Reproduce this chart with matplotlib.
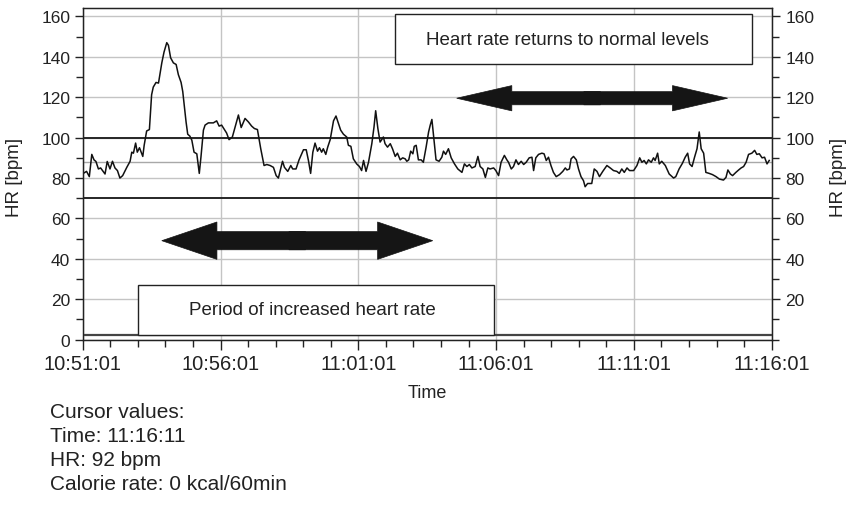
import matplotlib.pyplot as plt
from matplotlib.patches import FancyArrow, Rectangle
from matplotlib.ticker import MultipleLocator

plt.rcParams['font.family'] = ['Liberation Sans', 'DejaVu Sans']

# heart rate trace, minutes after 10:51:01
hr_min = [0.02, 0.14, 0.24, 0.33, 0.41, 0.48, 0.57, 0.65, 0.81, 0.89, 0.99, 1.08, 1.17, 1.26,
          1.35, 1.45, 1.60, 1.72, 1.78, 1.84, 1.92, 1.98, 2.06, 2.12, 2.18, 2.23, 2.32, 2.42,
          2.50, 2.56, 2.66, 2.75, 2.87, 2.95, 3.05, 3.11, 3.19, 3.29, 3.39, 3.47, 3.57, 3.63,
          3.75, 3.81, 3.89, 3.96, 4.04, 4.14, 4.23, 4.29, 4.38, 4.44, 4.56, 4.74, 4.86, 4.95,
          5.04, 5.14, 5.22, 5.31, 5.43, 5.53, 5.65, 5.75, 5.89, 6.01, 6.13, 6.23, 6.34, 6.46,
          6.58, 6.68, 6.80, 6.92, 7.02, 7.10, 7.25, 7.32, 7.44, 7.55, 7.62, 7.74, 7.85, 8.01,
          8.11, 8.19, 8.27, 8.35, 8.43, 8.52, 8.59, 8.67, 8.73, 8.82, 8.89, 8.98, 9.10, 9.19,
          9.28, 9.36, 9.46, 9.58, 9.64, 9.73, 9.82, 9.94, 10.04, 10.12, 10.19, 10.28, 10.37,
          10.49, 10.57, 10.63, 10.71, 10.79, 10.85, 10.91, 10.97, 11.06, 11.16, 11.24, 11.34,
          11.42, 11.52, 11.61, 11.70, 11.76, 11.83, 11.90, 11.98, 12.03, 12.10, 12.18, 12.28,
          12.36, 12.46, 12.55, 12.61, 12.67, 12.76, 12.82, 12.93, 13.03, 13.09, 13.17, 13.27,
          13.37, 13.49, 13.61, 13.76, 13.85, 13.94, 14.03, 14.12, 14.24, 14.34, 14.42, 14.52,
          14.61, 14.70, 14.78, 14.91, 14.99, 15.09, 15.18, 15.30, 15.39, 15.45, 15.55, 15.63,
          15.72, 15.81, 15.91, 16.00, 16.09, 16.20, 16.30, 16.36, 16.44, 16.54, 16.66, 16.74,
          16.82, 16.90, 16.99, 17.08, 17.18, 17.30, 17.42, 17.51, 17.57, 17.66, 17.72, 17.81,
          17.91, 17.99, 18.08, 18.17, 18.23, 18.32, 18.47, 18.56, 18.66, 18.75, 18.87, 19.02,
          19.14, 19.26, 19.38, 19.47, 19.56, 19.65, 19.75, 19.84, 19.99, 20.11, 20.21, 20.29,
          20.37, 20.45, 20.53, 20.63, 20.71, 20.77, 20.86, 20.92, 21.01, 21.14, 21.28, 21.44,
          21.52, 21.64, 21.76, 21.86, 21.95, 22.02, 22.11, 22.20, 22.29, 22.37, 22.44, 22.53,
          22.61, 22.73, 22.85, 22.98, 23.10, 23.25, 23.34, 23.41, 23.50, 23.58, 23.70, 23.80,
          23.89, 23.98, 24.07, 24.16, 24.28, 24.38, 24.46, 24.55, 24.65, 24.74, 24.83, 24.91]
hr_bpm = [82.3, 83.3, 80.7, 91.7, 89, 88.2, 84.5, 85, 82, 88.2, 84.5, 88.3, 85, 83.7,
          80, 81.2, 85.3, 88.3, 92.8, 92.3, 97.3, 92.8, 95, 92.8, 90.7, 96.2, 103.3, 104,
          121.2, 125, 127.3, 127, 137, 142.3, 147, 145.7, 139.5, 137, 136.2, 131.2, 127.3, 122.8,
          107.8, 101.7, 100.7, 98.7, 92.8, 92, 82.3, 90.3, 103.7, 106.2, 107.3, 107.3, 108.3, 105.7,
          106.2, 104, 102.3, 99, 100.3, 105.3, 111.2, 105, 109.5, 107.8, 105.7, 104.5, 104, 94.5,
          86.2, 86.7, 86.2, 85.3, 81.2, 80, 88.3, 85.3, 83.3, 86.2, 84.5, 84.5, 89, 94,
          94, 88.7, 82.3, 92.8, 97.3, 93.3, 95, 92.8, 94.5, 91.7, 95.3, 99, 108.3, 110.7,
          107, 103.7, 101.7, 100.3, 96.2, 95.7, 89.5, 87, 85.7, 83.7, 88.7, 83.3, 87.8,
          97, 105.3, 113.3, 104.5, 97.8, 99, 100.3, 97, 95.3, 97, 94.5, 90.7,
          92.3, 89, 90, 89.5, 88.3, 89, 93.3, 92, 95.7, 96.2, 89, 89,
          87.8, 95.3, 102.8, 106.2, 109, 97, 89, 88.3, 90.3, 93.3, 91.7, 94.5,
          90, 87, 84.5, 82.8, 87, 85.7, 86.7, 85, 85.7, 90.7, 85.7, 84.5,
          80.3, 85, 84.5, 85, 83.7, 81.2, 87.8, 91.2, 89, 87.8, 84.5, 85.7,
          89, 86.7, 88.3, 86.7, 87.8, 90, 90.3, 83.7, 90, 91.7, 92.3, 92,
          88.7, 90.3, 86.2, 82.8, 80.7, 81.7, 83.3, 85, 84, 84.5, 89.5, 90.7,
          89, 84.5, 80.7, 78.7, 75.7, 77.3, 77.3, 84.5, 83.3, 80.7, 83.3, 86.2,
          85, 83.7, 83.3, 82.3, 84.5, 82.8, 85, 83.7, 83.7, 86.2, 90, 87.8,
          88.7, 87, 89, 87.8, 90, 88.7, 92.3, 87, 88.3, 86.2, 82, 80,
          80.7, 84.5, 87.3, 90.3, 92.3, 87, 85.7, 90.3, 94.5, 102.8, 94.5, 92.3,
          82.8, 82.3, 81.7, 80.7, 79.5, 79, 80.3, 84, 82, 81.2, 82.8, 84,
          85, 85.7, 87.8, 91.7, 92.3, 93.7, 91.7, 92, 90, 90.3, 87, 88.7]

limit_levels = [100, 70]
mean_level = 88
calorie_level = 2.5

x_ticks = [0, 5, 10, 15, 20, 25]
x_tick_labels = ['10:51:01', '10:56:01', '11:01:01', '11:06:01', '11:11:01', '11:16:01']
left_ticks = [0, 20, 40, 60, 80, 100, 120, 140, 160]
right_ticks = [20, 40, 60, 80, 100, 120, 140, 160]

cursor_lines = ['Cursor values:', 'Time: 11:16:11', 'HR: 92 bpm', 'Calorie rate: 0 kcal/60min']

fig = plt.figure(figsize=(8.5, 5.06), dpi=100)
ax = fig.add_axes([0.0973, 0.3267, 0.8106, 0.6549])
ax.set_xlim(0, 25)
ax.set_ylim(0, 164)
ax.set_axisbelow(True)
ax.grid(True, which='major', color='#c4c4c4', lw=1)

for lvl in limit_levels:
    ax.axhline(lvl, color='#262626', lw=1.4, zorder=3)
ax.axhline(mean_level, color='#a8a8a8', lw=1, zorder=2)
ax.axhline(calorie_level, color='#444444', lw=1.6, zorder=3)

ax.plot(hr_min, hr_bpm, color='#111111', lw=1.1, zorder=6)

# annotation boxes
ax.add_patch(Rectangle((11.32, 136.5), 12.98, 24.7, fc='white', ec='#222222', lw=1, zorder=4))
ax.text(17.6, 148.8, 'Heart rate returns to normal levels', ha='center', va='center',
        fontsize=13.5, color='#222222', zorder=5)
ax.add_patch(Rectangle((2.0, 2.5), 12.92, 24.5, fc='white', ec='#222222', lw=1, zorder=4))
ax.text(8.35, 14.8, 'Period of increased heart rate', ha='center', va='center',
        fontsize=13.5, color='#222222', zorder=5)

# double arrows: two halves that overlap a little in the middle
for mid, y, half, w, hw in [(7.785, 49, 4.915, 9, 18.5), (18.485, 119.5, 4.915, 6.5, 12.5)]:
    for sign in (-1, 1):
        ax.add_patch(FancyArrow(mid - sign * 0.3, y, sign * (half + 0.3), 0, width=w,
                                head_width=hw, head_length=2.0, length_includes_head=True,
                                fc='#151515', ec='#151515', lw=0.5, zorder=5))

ax.set_xticks(x_ticks)
ax.set_xticklabels(x_tick_labels)
ax.xaxis.set_minor_locator(MultipleLocator(1))
ax.set_yticks(left_ticks)
ax.yaxis.set_minor_locator(MultipleLocator(10))
ax.tick_params(axis='x', which='major', direction='out', length=7, width=1,
               labelsize=14.5, pad=3, colors='#222222')
ax.tick_params(axis='x', which='minor', direction='out', length=5, width=1, colors='#222222')
ax.tick_params(axis='y', which='major', direction='out', length=6, width=1,
               labelsize=12.5, pad=3, colors='#222222')
ax.tick_params(axis='y', which='minor', direction='out', length=5, width=1, colors='#222222')
for s in ax.spines.values():
    s.set_color('#222222')
    s.set_linewidth(1)

ax2 = ax.twinx()
ax2.set_ylim(ax.get_ylim())
ax2.set_yticks(right_ticks)
ax2.yaxis.set_minor_locator(MultipleLocator(10))
ax2.tick_params(axis='y', which='major', direction='out', length=6, width=1,
                labelsize=12.5, pad=4, colors='#222222')
ax2.tick_params(axis='y', which='minor', direction='out', length=5, width=1, colors='#222222')
for s in ax2.spines.values():
    s.set_color('#222222')

fig.text(0.0176, 0.65, 'HR [bpm]', rotation=90, ha='center', va='center', fontsize=13.5, color='#222222')
fig.text(0.987, 0.65, 'HR [bpm]', rotation=90, ha='center', va='center', fontsize=13.5, color='#222222')
fig.text(0.503, 0.223, 'Time', ha='center', va='center', fontsize=13, color='#222222')

for i, line in enumerate(cursor_lines):
    fig.text(0.0588, 0.174 - i * 0.0474, line, ha='left', va='baseline', fontsize=15, color='#222222')

fig.savefig('out.png', dpi=100)
